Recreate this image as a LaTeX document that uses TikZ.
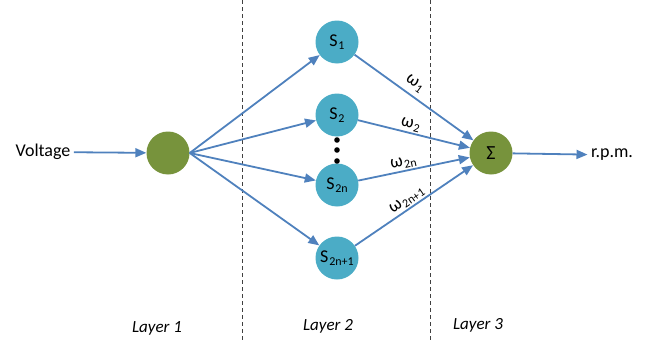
\documentclass[tikz,border=0pt]{standalone}
\usepackage{fontspec}
\setmainfont{Carlito}
\usetikzlibrary{arrows.meta}
\definecolor{cellblue}{HTML}{4BACC6}
\definecolor{cellgreen}{HTML}{77933C}
\definecolor{linkblue}{HTML}{4F81BD}
\definecolor{sepgray}{HTML}{404040}
\newcommand{\lowsub}[1]{\kern0.8pt\raisebox{-0.35ex}{\fontsize{12}{13}\selectfont#1}}

\begin{document}
\begin{tikzpicture}[x=1pt,y=-1pt,
  every node/.style={font=\fontsize{18}{21}\selectfont},
  unit/.style={circle,minimum size=43pt,inner sep=0pt},
  snode/.style={unit,fill=cellblue},
  gnode/.style={unit,fill=cellgreen},
  link/.style={draw=linkblue,line width=1.8pt,-{Triangle[length=11pt,width=9pt]}},
  weight/.style={sloped,above,inner sep=1.5pt},
  layer label/.style={font=\fontsize{17}{20}\selectfont\itshape},
  ]
  \useasboundingbox (0,0) rectangle (648,340);
  % layer separators
  \foreach \x in {242,430}{
    \draw[sepgray,line width=0.9pt,dash pattern=on 4pt off 3pt] (\x,0) -- (\x,340);
  };
  \node[gnode](in) at (168,153){};
  \node(volt) at (43,152){Voltage};
  \foreach \name/\y/\sub in {s1/42/1,s2/115/2,s2n/185/2n,s2np/258/2n+1}{
    \node[snode](\name) at (337,\y){S\lowsub{\sub}};
    \draw[link](in.east) -- (\name);
  };
  \foreach \y in {140,150,161}{
    \fill (337,\y) circle (2.8pt);
  };
  \node[gnode,font=\fontsize{20}{22}\selectfont](sum) at (491,153){Σ};
  \node(rpm) at (612,155){r.p.m.};
  \draw[link](volt) -- (in);
  \draw[link](sum) -- (rpm);
  \draw[link](s1) -- node[weight,pos=0.45,yshift=3pt]{ω\lowsub{1}} (sum);
  \draw[link](s2) -- node[weight,pos=0.45]{ω\lowsub{2}} (sum);
  \draw[link](s2n) -- node[weight,pos=0.42]{ω\lowsub{2n}} (sum);
  \draw[link](s2np) -- node[weight,pos=0.48]{ω\lowsub{2n+1}} (sum);
  % layer names
  \node[layer label](layer1) at (157,328){Layer 1};
  \node[layer label](layer2) at (328,326){Layer 2};
  \node[layer label](layer3) at (478,325){Layer 3};
\end{tikzpicture}
\end{document}
